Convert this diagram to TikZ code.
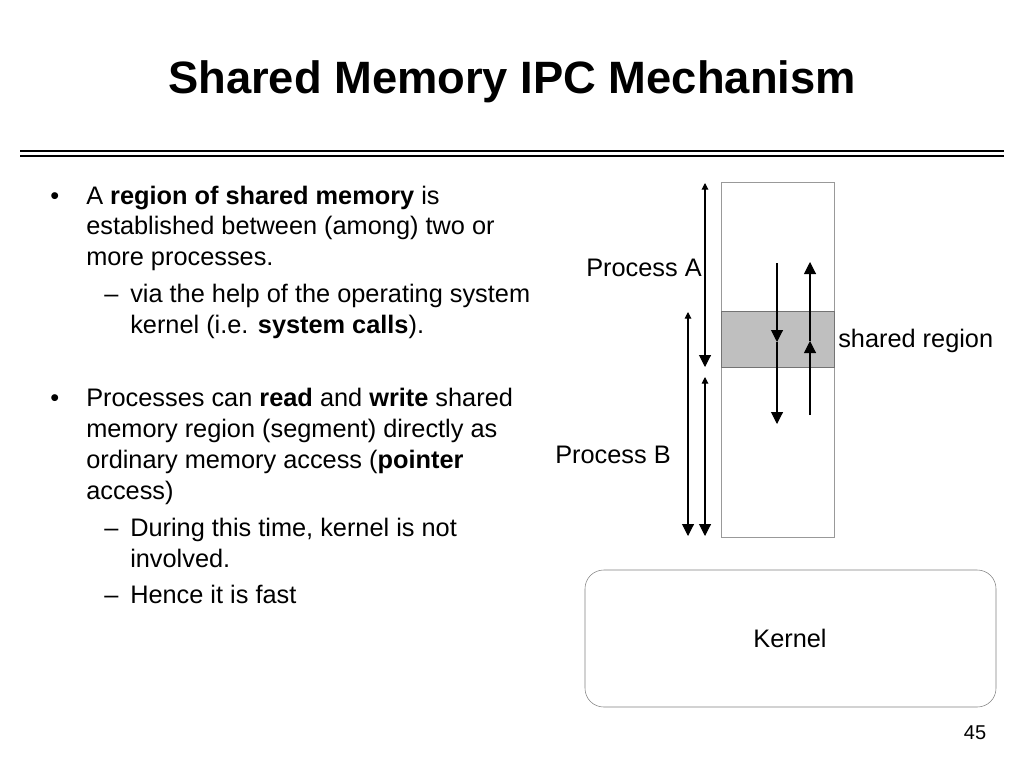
\documentclass[tikz,border=0pt]{standalone}
\usepackage{fontspec}
\setmainfont{Liberation Sans}
\usetikzlibrary{arrows.meta}
\begin{document}
\begin{tikzpicture}%
        [x=0.75pt, y=-0.75pt,
        body/.style={anchor=base west, inner sep=0pt, font=\fontsize{19}{23}\selectfont},
        lbl/.style={inner sep=0pt, font=\fontsize{19}{23}\selectfont},
        flow/.style={thick, -{Triangle[length=9pt,width=9pt]}},
        both/.style={thick, {Triangle[length=5pt,width=5pt]}-{Triangle[length=9pt,width=9pt]}}]
%
\useasboundingbox (0,0) rectangle (1024,768);
%% title and rules
\node[font=\bfseries\fontsize{34}{40}\selectfont] (title) at (512,82) {Shared Memory IPC Mechanism};
\draw[thick] (20,151) -- (1004,151);
\draw[thick] (20,156) -- (1004,156);
%%
%% bullet text
\node[body] (b1) at (50,204) {•};
\node[body] (t1) at (86,204) {A \textbf{region of shared memory} is};
\node[body] (t2) at (86,234) {established between (among) two or};
\node[body] (t3) at (86,265) {more processes.};
\node[body] (d1) at (104,302) {–};
\node[body] (t4) at (130,302) {via the help of the operating system};
\node[body] (t5) at (130,333) {kernel (i.e. \textbf{system calls}).};
\node[body] (b2) at (50,406) {•};
\node[body] (t6) at (86,406) {Processes can \textbf{read} and \textbf{write} shared};
\node[body] (t7) at (86,437) {memory region (segment) directly as};
\node[body] (t8) at (86,468) {ordinary memory access (\textbf{pointer}};
\node[body] (t9) at (86,499) {access)};
\node[body] (d2) at (104,536) {–};
\node[body] (t10) at (130,536) {During this time, kernel is not};
\node[body] (t11) at (130,567) {involved.};
\node[body] (d3) at (104,603) {–};
\node[body] (t12) at (130,603) {Hence it is fast};
%%
%% memory column
\draw[black!40] (721,182) rectangle (834,537);
\fill[black!25] (721,311) rectangle (834,367);
\draw[black!55] (721,311) rectangle (834,367);
\node[lbl, anchor=west] (shared) at (838,341) {shared region};
\node[lbl, anchor=east] (procA) at (702,268) {Process A};
\node[lbl, anchor=east] (procB) at (671,455) {Process B};
%%
%% extents of the processes
\coordinate (aTop) at (705,183);
\coordinate (aBot) at (705,367);
\coordinate (bTop) at (688,312);
\coordinate (bBot) at (688,536);
\coordinate (cTop) at (705,377);
\coordinate (cBot) at (705,536);
\draw[both] (aTop) -- (aBot);
\draw[both] (bTop) -- (bBot);
\draw[both] (cTop) -- (cBot);
%%
%% reads and writes
\coordinate (wTop) at (777,263);
\coordinate (wMid) at (777,342);
\coordinate (wBot) at (777,424);
\coordinate (rBot) at (810,415);
\coordinate (rMid) at (810,341);
\coordinate (rTop) at (810,262);
\draw[flow] (wTop) -- (wMid);
\draw[flow] (wMid) -- (wBot);
\draw[flow] (rBot) -- (rMid);
\draw[flow] (rMid) -- (rTop);
%%
%% kernel
\draw[black!50, rounded corners=14pt] (585,570) rectangle (996,707);
\node[lbl] (kernel) at (790,638) {Kernel};
\node[lbl, font=\fontsize{15}{18}\selectfont] (page) at (975,733) {45};
\end{tikzpicture}
\end{document}
